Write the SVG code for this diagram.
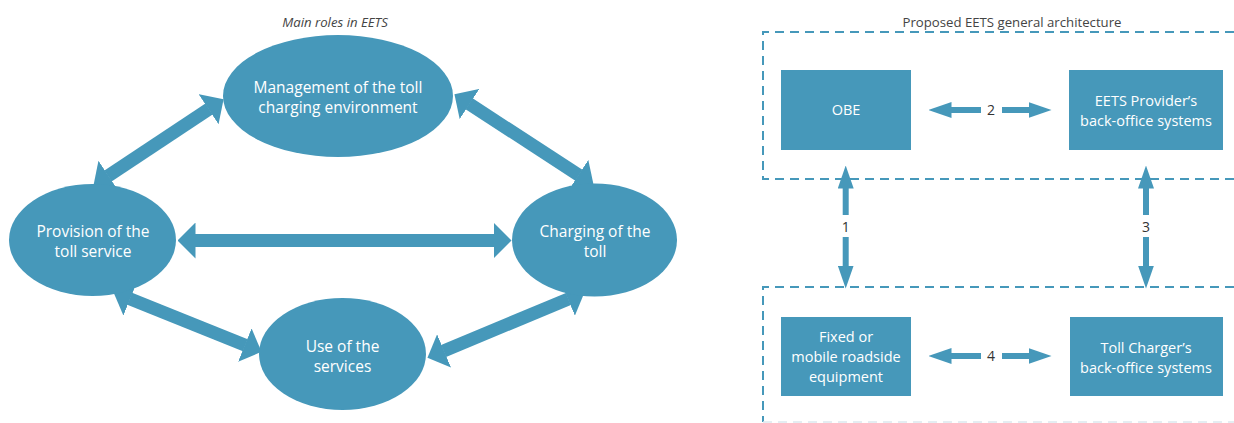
<svg xmlns="http://www.w3.org/2000/svg" width="1234" height="423" viewBox="0 0 1234 423">
  <style>
    .node { fill: #4698ba; }
    .lbl { font-family: "Open Sans", "Noto Sans", "Liberation Sans", sans-serif; fill: #ffffff; text-anchor: middle; }
    .big { font-size: 15.5px; }
    .small { font-size: 14.5px; }
    .title { font-family: "Open Sans", "Noto Sans", "Liberation Sans", sans-serif; font-size: 13.2px; fill: #444444; text-anchor: middle; }
    .num { font-family: "Open Sans", "Noto Sans", "Liberation Sans", sans-serif; font-size: 14px; fill: #333333; text-anchor: middle; }
    .thick { stroke: #4698ba; stroke-width: 13; fill: none; }
    .thin { stroke: #4698ba; stroke-width: 6; fill: none; }
    .dash { stroke: #4698ba; stroke-width: 2; fill: none; stroke-dasharray: 9 6; }
  </style>
  <defs>
    <marker id="bigHead" viewBox="0 0 18 36" refX="0.5" refY="18" markerWidth="18" markerHeight="36" markerUnits="userSpaceOnUse" orient="auto-start-reverse">
      <path d="M0,0 L18,18 L0,36 Z" fill="#4698ba"/>
    </marker>
    <marker id="smallHead" viewBox="0 0 23 16" refX="0.5" refY="8" markerWidth="23" markerHeight="16" markerUnits="userSpaceOnUse" orient="auto-start-reverse">
      <path d="M0,0 L23,8 L0,16 Z" fill="#4698ba"/>
    </marker>
  </defs>
  <rect x="0" y="0" width="1234" height="423" fill="#ffffff"/>

  <!-- Left diagram -->
  <text class="title" x="335" y="27" font-style="italic" fill="#333333">Main roles in EETS</text>

  <g id="connectors-left">
    <line class="thick" x1="108" y1="176" x2="209" y2="109" marker-start="url(#bigHead)" marker-end="url(#bigHead)"/>
    <line class="thick" x1="469.1" y1="103.8" x2="578.9" y2="175.2" marker-start="url(#bigHead)" marker-end="url(#bigHead)"/>
    <line class="thick" x1="195" y1="240.5" x2="494" y2="240.5" marker-start="url(#bigHead)" marker-end="url(#bigHead)"/>
    <line class="thick" x1="129.7" y1="298.7" x2="245.3" y2="345.3" marker-start="url(#bigHead)" marker-end="url(#bigHead)"/>
    <line class="thick" x1="443.6" y1="351.1" x2="568.4" y2="298.9" marker-start="url(#bigHead)" marker-end="url(#bigHead)"/>
  </g>

  <g id="management">
    <ellipse class="node" cx="338" cy="96" rx="115" ry="61"/>
    <text class="lbl big" x="338" y="92.5">Management of the toll</text>
    <text class="lbl big" x="338" y="112.5">charging environment</text>
  </g>
  <g id="provision">
    <ellipse class="node" cx="92.5" cy="240" rx="83.5" ry="56"/>
    <text class="lbl big" x="93" y="236.5">Provision of the</text>
    <text class="lbl big" x="93" y="256.5">toll service</text>
  </g>
  <g id="charging">
    <ellipse class="node" cx="594.5" cy="240" rx="82.5" ry="56.5"/>
    <text class="lbl big" x="595" y="236.5">Charging of the</text>
    <text class="lbl big" x="595" y="256.5">toll</text>
  </g>
  <g id="use">
    <ellipse class="node" cx="342.5" cy="354" rx="83.5" ry="56"/>
    <text class="lbl big" x="342.5" y="351.5">Use of the</text>
    <text class="lbl big" x="342.5" y="371.5">services</text>
  </g>

  <!-- Right diagram -->
  <text class="title" x="1012" y="27">Proposed EETS general architecture</text>

  <g id="domain-boxes">
    <path class="dash" d="M1234,32 H763 V179 H1234"/>
    <path class="dash" d="M1234,287 H763 V422"/>
    <line x1="763" y1="422" x2="1234" y2="422" stroke="#dbe8ee" stroke-width="1.5" stroke-dasharray="9 6"/>
  </g>

  <g id="connectors-right">
    <line class="thin" x1="951" y1="110" x2="981" y2="110" marker-start="url(#smallHead)"/>
    <line class="thin" x1="1002" y1="110" x2="1029" y2="110" marker-end="url(#smallHead)"/>
    <text class="num" x="991" y="115">2</text>
    <line class="thin" x1="951" y1="356" x2="981" y2="356" marker-start="url(#smallHead)"/>
    <line class="thin" x1="1002" y1="356" x2="1029" y2="356" marker-end="url(#smallHead)"/>
    <text class="num" x="991" y="361">4</text>
    <line class="thin" x1="845.7" y1="188" x2="845.7" y2="215" marker-start="url(#smallHead)"/>
    <line class="thin" x1="845.7" y1="237" x2="845.7" y2="266" marker-end="url(#smallHead)"/>
    <text class="num" x="845.7" y="232">1</text>
    <line class="thin" x1="1146" y1="188" x2="1146" y2="215" marker-start="url(#smallHead)"/>
    <line class="thin" x1="1146" y1="237" x2="1146" y2="266" marker-end="url(#smallHead)"/>
    <text class="num" x="1146" y="232">3</text>
  </g>

  <g id="obe">
    <rect class="node" x="781" y="70" width="130" height="80"/>
    <text class="lbl small" x="846" y="115">OBE</text>
  </g>
  <g id="eets-provider">
    <rect class="node" x="1069" y="70" width="154" height="80"/>
    <text class="lbl small" x="1146" y="106">EETS Provider’s</text>
    <text class="lbl small" x="1146" y="126">back-office systems</text>
  </g>
  <g id="roadside">
    <rect class="node" x="781" y="317" width="130" height="79"/>
    <text class="lbl small" x="846" y="342">Fixed or</text>
    <text class="lbl small" x="846" y="362">mobile roadside</text>
    <text class="lbl small" x="846" y="382">equipment</text>
  </g>
  <g id="toll-charger">
    <rect class="node" x="1070" y="317" width="153" height="79"/>
    <text class="lbl small" x="1146" y="353">Toll Charger’s</text>
    <text class="lbl small" x="1146" y="373">back-office systems</text>
  </g>
</svg>
